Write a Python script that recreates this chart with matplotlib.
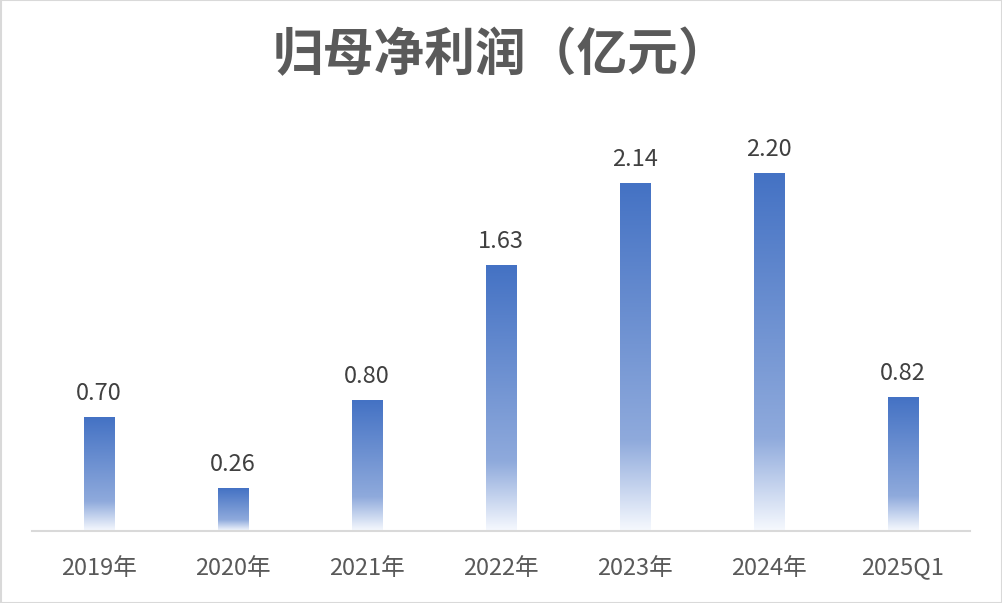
import numpy as np
import matplotlib
matplotlib.use("Agg")
import matplotlib.pyplot as plt
from matplotlib.patches import Rectangle

plt.rcParams['font.family'] = ['Noto Sans CJK SC', 'DejaVu Sans']

categories = ["2019年", "2020年", "2021年", "2022年", "2023年", "2024年", "2025Q1"]
values = [0.70, 0.26, 0.80, 1.63, 2.14, 2.20, 0.82]
value_labels = ["0.70", "0.26", "0.80", "1.63", "2.14", "2.20", "0.82"]
title = "归母净利润（亿元）"

fig = plt.figure(figsize=(10.03, 6.03), dpi=100)
ax = fig.add_axes([0.0319, 0.1194, 0.9352, 0.6816])

# gradient (top -> bottom)
stops = [(0.0, (68, 114, 196)), (0.74, (143, 170, 220)), (1.0, (246, 249, 254))]
n = 256
t = np.linspace(0, 1, n)
grad = np.zeros((n, 1, 3))
for c in range(3):
    grad[:, 0, c] = np.interp(t, [s[0] for s in stops], [s[1][c] / 255 for s in stops])

bw = 0.224
x = np.arange(len(categories))
for xi, v, lab in zip(x, values, value_labels):
    ax.imshow(grad, extent=[xi - bw / 2, xi + bw / 2, 0, v], aspect='auto',
              interpolation='bilinear', zorder=2)
    ax.annotate(lab, (xi, v), xytext=(0, 9), textcoords='offset points',
                ha='center', va='bottom', fontsize=17, color='#404040')

ax.set_xlim(-0.5, len(categories) - 0.5)
ax.set_ylim(0, 2.528)
ax.set_xticks(x)
ax.set_xticklabels(categories, fontsize=17, color='#595959')
ax.tick_params(axis='x', length=0, pad=18.5)
ax.set_yticks([])
for s in ['top', 'left', 'right']:
    ax.spines[s].set_visible(False)
ax.spines['bottom'].set_color('#D9D9D9')
ax.spines['bottom'].set_linewidth(1.5)

fig.text(0.5, 0.908, title, ha='center', va='center', fontsize=36.5,
         fontweight='bold', color='#5A5A5A')

fig.add_artist(Rectangle((0.0005, 0.0008), 0.999, 0.9984, transform=fig.transFigure,
                         fill=False, edgecolor='#D9D9D9', linewidth=1.5))

fig.savefig("out.png", dpi=100)
